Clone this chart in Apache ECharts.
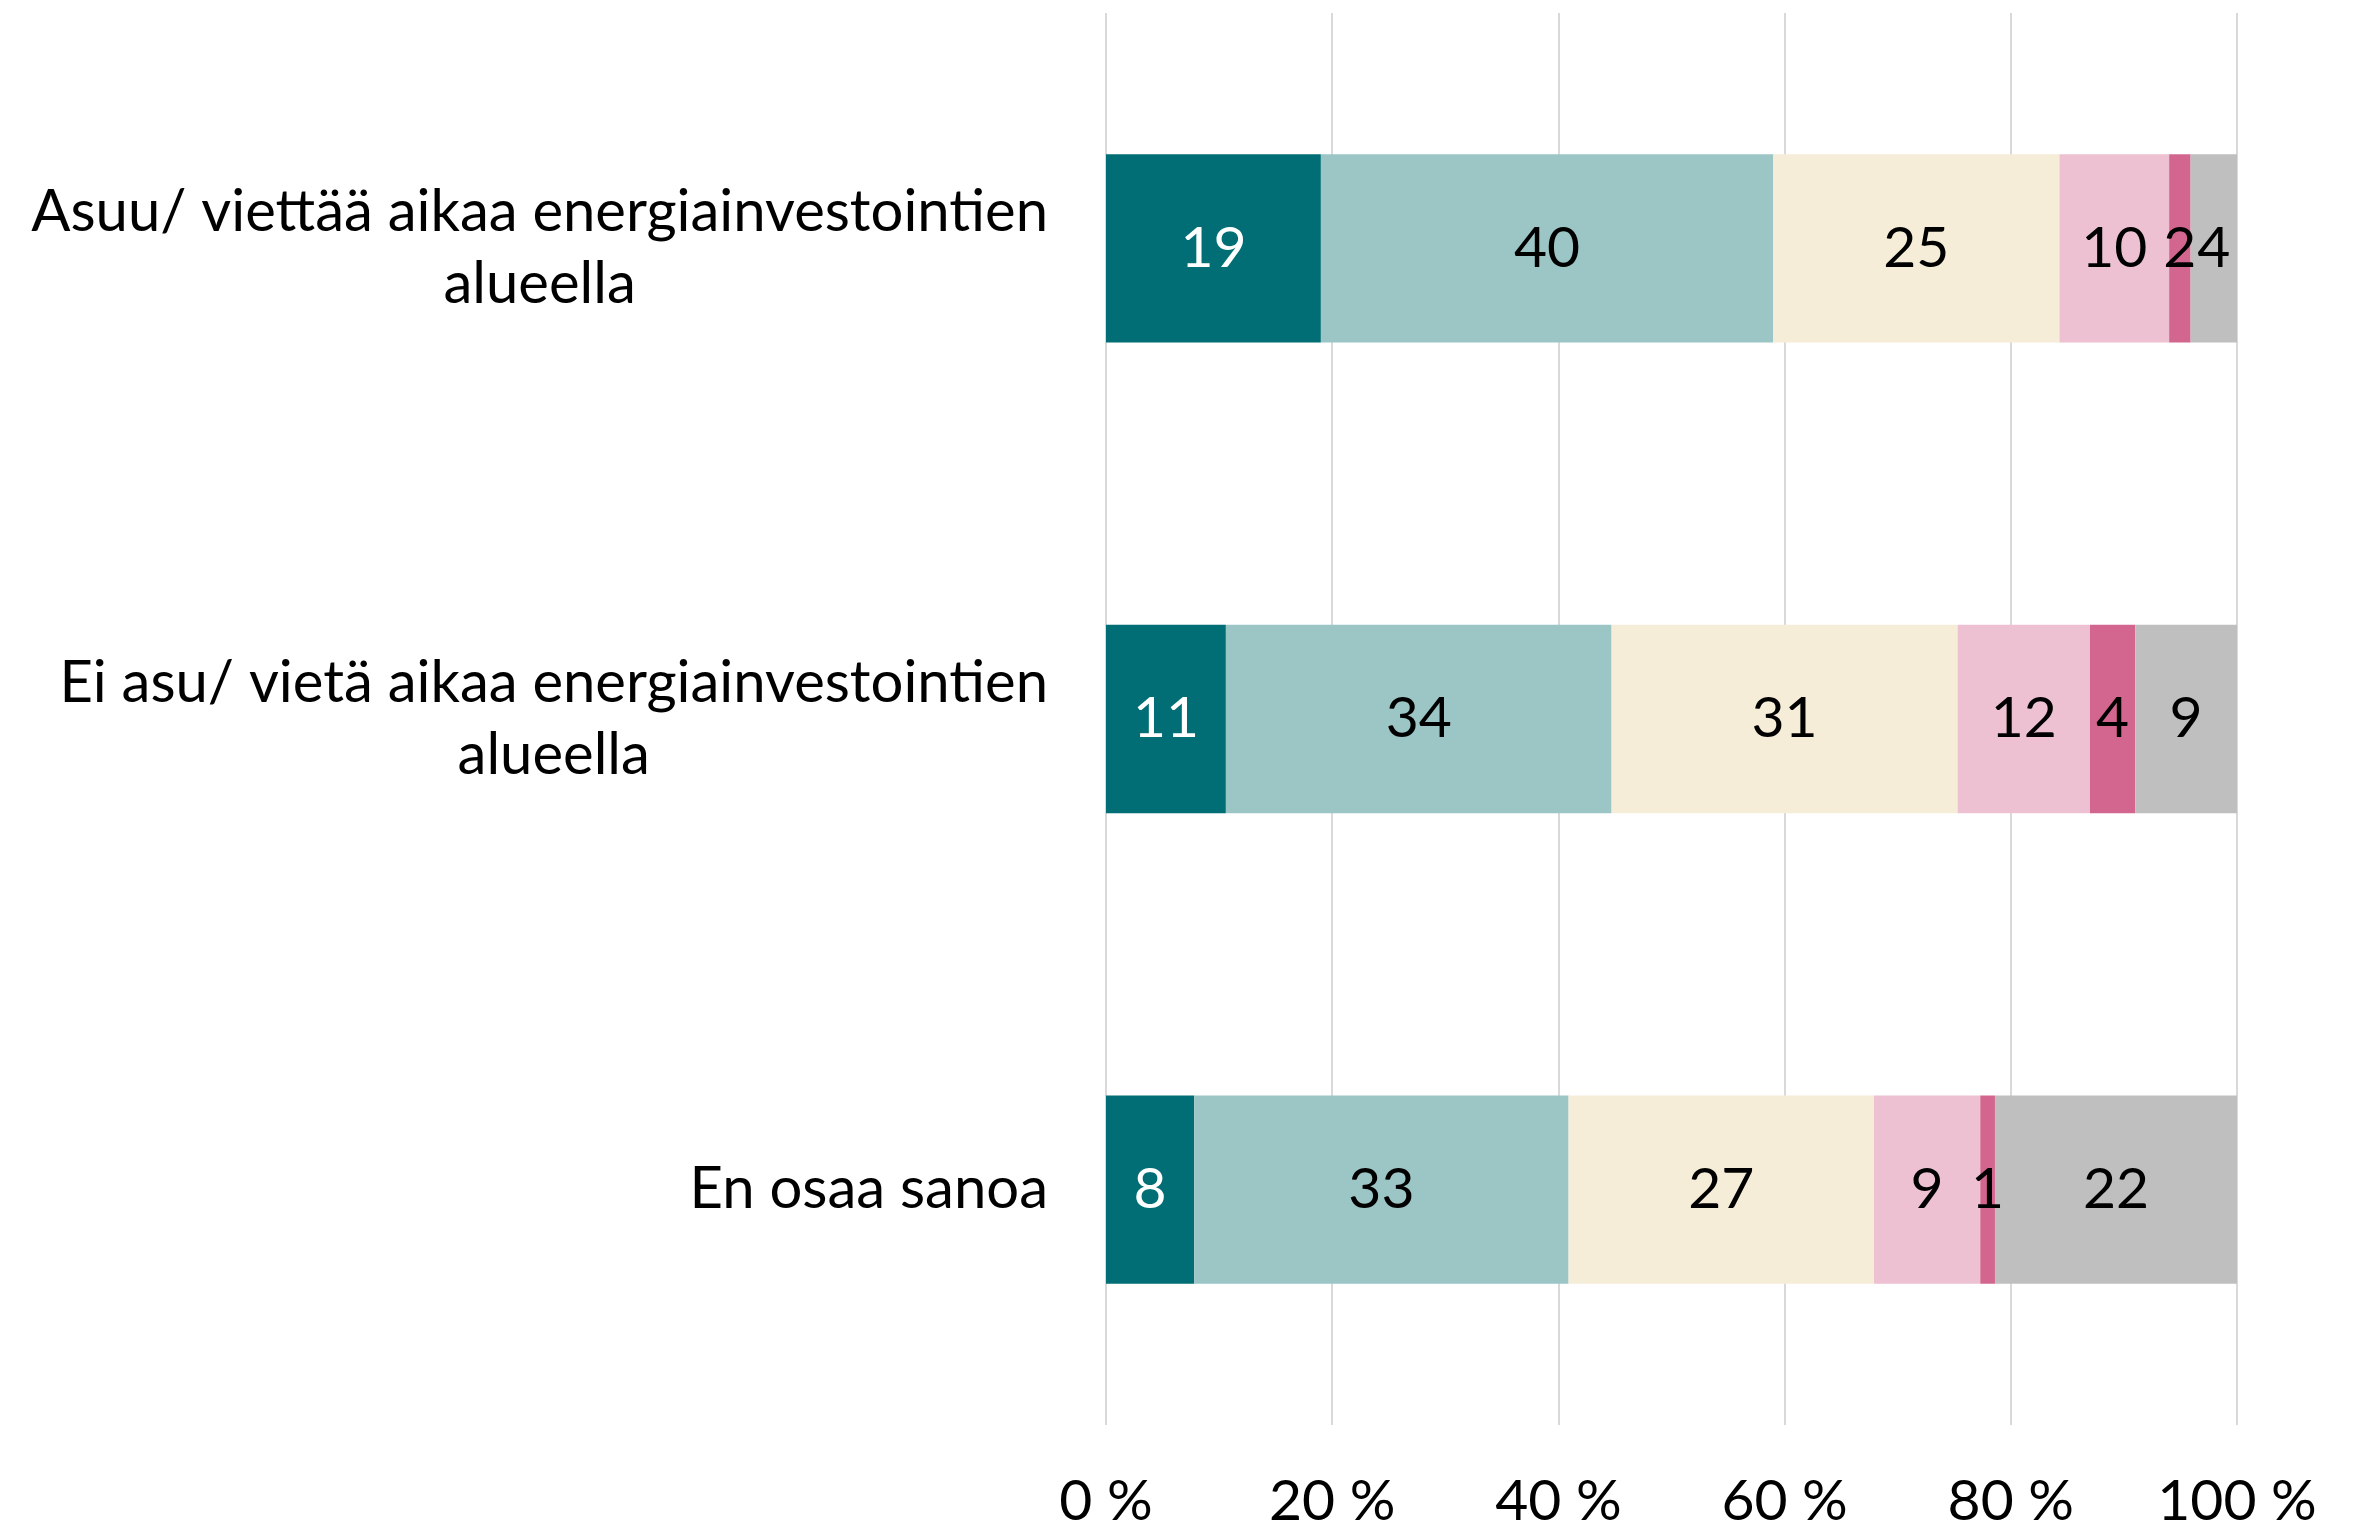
<!DOCTYPE html>
<html>
<head>
<meta charset="utf-8">
<script src="https://cdn.jsdelivr.net/npm/echarts@6/dist/echarts.min.js"></script>
<style>
  html, body { margin: 0; padding: 0; background: #fff; }
  #chart { width: 2353px; height: 1530px; }
</style>
</head>
<body>
<div id="chart"></div>
<script>
// categories (top to bottom)
const categories = [
  'Asuu/ viettää aikaa energiainvestointien\nalueella',
  'Ei asu/ vietä aikaa energiainvestointien\nalueella',
  'En osaa sanoa'
]

// segment shares (percent of row)
const share1 = [19.0, 10.6, 7.8]
const share2 = [40.0, 34.1, 33.1]
const share3 = [25.3, 30.6, 27.0]
const share4 = [9.7, 11.7, 9.4]
const share5 = [1.9, 4.0, 1.3]
const share6 = [4.1, 9.0, 21.4]

// printed labels
const label1 = [19, 11, 8]
const label2 = [40, 34, 33]
const label3 = [25, 31, 27]
const label4 = [10, 12, 9]
const label5 = [2, 4, 1]
const label6 = [4, 9, 22]

const xTicks = [0, 20, 40, 60, 80, 100]

const colors = ['#006e74', '#9cc5c6', '#f5edd7', '#edc1d1', '#d3668f', '#bfbfbf']
const FONT = 'Lato'

function makeSeries(name, values, labels, color, labelColor) {
  return {
    name: name,
    type: 'bar',
    stack: 'total',
    barCategoryGap: '60%',
    data: values,
    itemStyle: { color: color },
    label: {
      show: true,
      position: 'inside',
      color: labelColor,
      fontFamily: FONT,
      fontSize: 57,
      formatter: p => String(labels[p.dataIndex])
    }
  }
}

const chart = echarts.init(document.getElementById('chart'))
chart.setOption({
  animation: false,
  grid: { left: 1106, right: 116, top: 13, bottom: 104, containLabel: false },
  xAxis: {
    type: 'value',
    min: 0,
    max: 100,
    interval: 20,
    axisLine: { show: false },
    axisTick: { show: false },
    splitLine: { show: true, lineStyle: { color: '#d9d9d9', width: 2 } },
    axisLabel: {
      margin: 48,
      color: '#000',
      fontFamily: FONT,
      fontSize: 57,
      formatter: v => xTicks.indexOf(v) >= 0 ? v + ' %' : ''
    }
  },
  yAxis: {
    type: 'category',
    inverse: true,
    data: categories,
    axisLine: { show: false },
    axisTick: { show: false },
    axisLabel: {
      margin: 58,
      align: 'right',
      lineHeight: 72,
      formatter: v => v.split('\n').map(s => '{c|' + s + '}').join('\n'),
      rich: {
        c: { align: 'center', color: '#000', fontFamily: FONT, fontSize: 58, lineHeight: 72 }
      }
    }
  },
  series: [
    makeSeries('s1', share1, label1, colors[0], '#fff'),
    makeSeries('s2', share2, label2, colors[1], '#000'),
    makeSeries('s3', share3, label3, colors[2], '#000'),
    makeSeries('s4', share4, label4, colors[3], '#000'),
    makeSeries('s5', share5, label5, colors[4], '#000'),
    makeSeries('s6', share6, label6, colors[5], '#000')
  ]
})
</script>
</body>
</html>
